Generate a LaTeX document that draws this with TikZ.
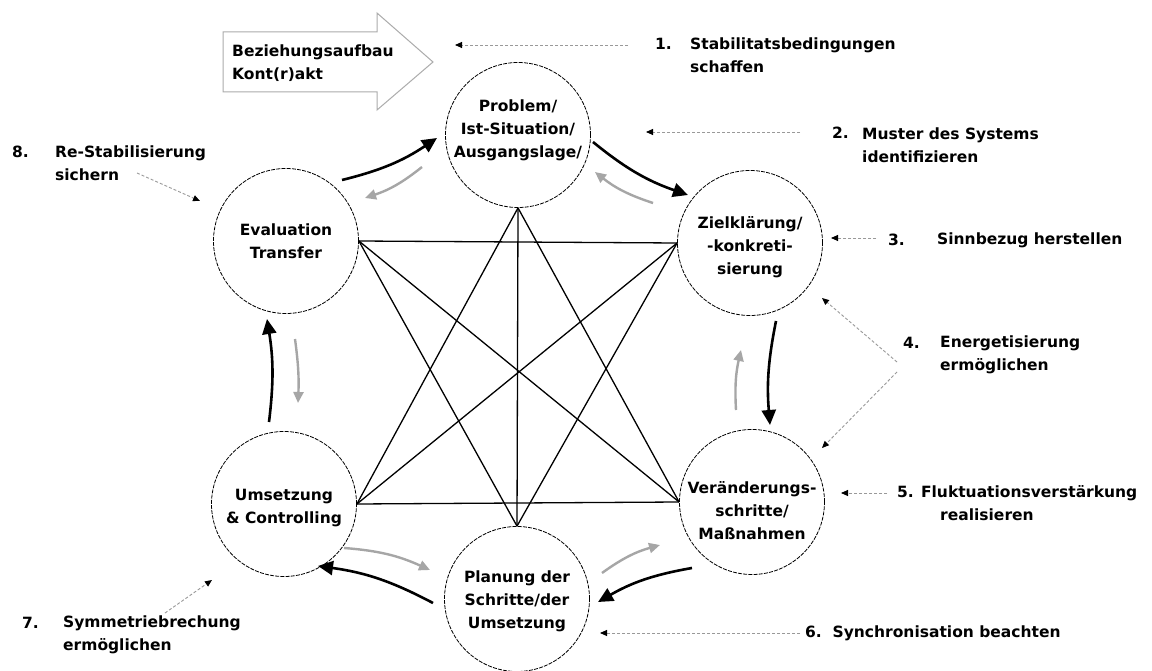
\documentclass[tikz,border=0pt]{standalone}
\usepackage{fontspec}
\setmainfont{DejaVu Sans}
\usetikzlibrary{arrows.meta,calc}
\begin{document}
\begin{tikzpicture}[x=1pt,y=-1pt,
  font=\fontsize{15.5}{23}\selectfont\bfseries,
  ring/.style={circle,draw=black,line width=0.8pt,dash pattern=on 4pt off 1.2pt,minimum size=145pt,inner sep=0pt},
  ctext/.style={align=center,inner sep=0pt},
  lbl/.style={anchor=west,inner sep=0pt,align=left},
  star/.style={line width=1.3pt},
  blk/.style={line width=2.6pt,-{Triangle[length=15pt,width=14pt]}},
  gry/.style={line width=2.4pt,draw=gray!70,-{Triangle[length=11pt,width=10pt,color=gray!70]}},
  hint/.style={draw=gray!80,line width=0.9pt,dash pattern=on 3pt off 2pt,-{Triangle[length=7pt,width=6pt,color=black]}}
]
\useasboundingbox (0,0) rectangle (1152,671);
\fill[white] (0,0) rectangle (1152,671);

% circles
\node[ring] (P)  at (518,135) {};
\node[ring] (E)  at (286,241) {};
\node[ring] (Z)  at (750,243) {};
\node[ring] (U)  at (284,504) {};
\node[ring] (V)  at (752,502) {};
\node[ring] (Pl) at (517,599) {};

\node[ctext] (Pt)  at ($(P)+(0,-5)$) {Problem/\\Ist-Situation/\\Ausgangslage/};
\node[ctext] (Et)  at (E) {Evaluation\\Transfer};
\node[ctext] (Zt)  at ($(Z)+(0,4)$) {Zielklärung/\\-konkreti-\\sierung};
\node[ctext] (Ut)  at ($(U)+(0,4)$) {Umsetzung\\\& Controlling};
\node[ctext] (Vt)  at ($(V)+(0,9)$) {Veränderungs-\\schritte/\\Maßnahmen};
\node[ctext] (Plt) at ($(Pl)+(0,2)$) {Planung der\\Schritte/der\\Umsetzung};

% star lines
\draw[star] (E.east) -- (Z.west);
\draw[star] (U.east) -- (V.west);
\draw[star] (P.south) -- (Pl.north);
\draw[star] (P.south) -- (U.east);
\draw[star] (P.south) -- (V.west);
\draw[star] (E.east) -- (V.west);
\draw[star] (E.east) -- (Pl.north);
\draw[star] (Z.west) -- (U.east);
\draw[star] (Z.west) -- (Pl.north);

% black cycle arrows (clockwise)
\draw[blk] ($(E)+(56,-61)$) to[bend right=10] ($(P)+(-81,3)$);
\draw[blk] ($(P)+(75,7)$) to[bend right=10] ($(Z)+(-62,-48)$);
\draw[blk] ($(Z)+(26,78)$) to[bend right=8] ($(V)+(18,-77)$);
\draw[blk] ($(V)+(-60,66)$) to[bend right=10] ($(Pl)+(81,3)$);
\draw[blk] ($(Pl)+(-84,4)$) to[bend right=10] ($(U)+(34,62)$);
\draw[blk] ($(U)+(-15,-82)$) to[bend right=8] ($(E)+(-19,78)$);

% grey arrows (counter-clockwise)
\draw[gry] ($(P)+(-96,32)$) to[bend left=10] ($(E)+(79,-43)$);
\draw[gry] ($(Z)+(-97,-40)$) to[bend left=10] ($(P)+(77,37)$);
\draw[gry] ($(V)+(-16,-92)$) to[bend left=8] ($(Z)+(-9,107)$);
\draw[gry] ($(Pl)+(85,-26)$) to[bend left=10] ($(V)+(-92,43)$);
\draw[gry] ($(U)+(60,44)$) to[bend left=10] ($(Pl)+(-87,-29)$);
\draw[gry] ($(E)+(9,98)$) to[bend left=5] ($(U)+(14,-101)$);

% block arrow
\draw[draw=gray!65,line width=1pt,fill=white] (223,32) -- (377,32) -- (377,13) -- (433,62) -- (377,110) -- (377,92) -- (223,92) -- cycle;
\node[lbl] (bez) at (232,63) {Beziehungsaufbau\\Kont(r)akt};

% hint arrows
\coordinate (h1) at (628,45);
\coordinate (h2) at (800,132);
\coordinate (h3) at (876,238);
\coordinate (h4a) at (897,362);
\coordinate (h4b) at (897,372);
\coordinate (h5) at (887,493);
\coordinate (h6) at (800,633);
\coordinate (h7) at (165,613);
\coordinate (h8) at (137,173);
\draw[hint] (h1) -- (455,45);
\draw[hint] (h2) -- ($(P)+(128,-3)$);
\draw[hint] (h3) -- ($(Z)+(81,-5)$);
\draw[hint] (h4a) -- ($(Z)+(72,55)$);
\draw[hint] (h4b) -- ($(V)+(70,-54)$);
\draw[hint] (h5) -- ($(V)+(89,-9)$);
\draw[hint] (h6) -- ($(Pl)+(83,34)$);
\draw[hint] (h7) -- ($(U)+(-72,76)$);
\draw[hint] (h8) -- ($(E)+(-86,-40)$);

% labels
\node[lbl] (n1) at (655,44) {1.};
\node[lbl] (l1) at (690,55) {Stabilitatsbedingungen\\schaffen};
\node[lbl] (n2) at (832,133) {2.};
\node[lbl] (l2) at (862,145) {Muster des Systems\\identifizieren};
\node[lbl] (n3) at (888,240) {3.};
\node[lbl] (l3) at (937,240) {Sinnbezug herstellen};
\node[lbl] (n4) at (903,343) {4.};
\node[lbl] (l4) at (940,355) {Energetisierung\\ermöglichen};
\node[lbl] (l5) at (897,503) {5. Fluktuationsverstärkung\\\hspace*{43pt}realisieren};
\node[lbl] (l6) at (805,633) {6.\ \ Synchronisation beachten};
\node[lbl] (n7) at (22,623) {7.};
\node[lbl] (l7) at (63,635) {Symmetriebrechung\\ermöglichen};
\node[lbl] (n8) at (12,152) {8.};
\node[lbl] (l8) at (55,163) {Re-Stabilisierung\\sichern};
\end{tikzpicture}
\end{document}
